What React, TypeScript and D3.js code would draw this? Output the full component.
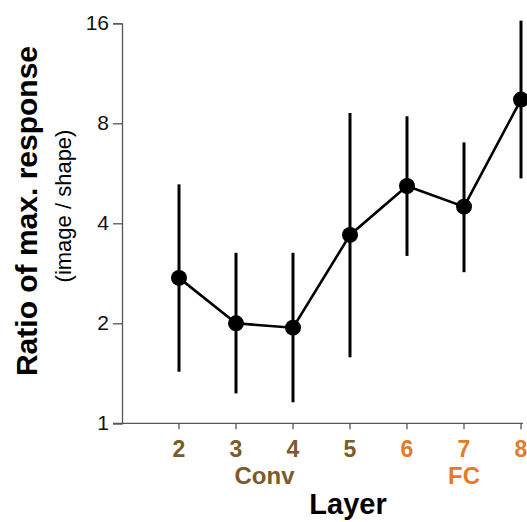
import React, { useEffect, useRef } from 'react';
import * as d3 from 'd3';

// layer numbers and their group
const layers = [2, 3, 4, 5, 6, 7, 8];
const groups = ['Conv', 'Conv', 'Conv', 'Conv', 'FC', 'FC', 'FC'];
// ratio of max. response (image / shape), with error bar ends
const means = [2.74, 2.0, 1.94, 3.69, 5.18, 4.49, 9.43];
const lows = [1.43, 1.23, 1.157, 1.58, 3.19, 2.85, 5.46];
const highs = [5.24, 3.26, 3.26, 8.59, 8.4, 7.01, 16.3];
const yTicks = [1, 2, 4, 8, 16];

const groupColor: Record<string, string> = { Conv: '#7b5a2b', FC: '#e8792a' };
const font = '"Liberation Sans", Arial, sans-serif';

export default function App() {
  const ref = useRef<SVGSVGElement>(null);

  useEffect(() => {
    const svg = d3.select(ref.current);
    svg.selectAll('*').remove();

    const x = d3.scaleLinear().domain([1, 8]).range([122, 521]);
    const y = d3.scaleLog().base(2).domain([1, 16]).range([423.3, 23.3]);

    const data = layers.map((l, i) => ({
      layer: l,
      group: groups[i],
      mean: means[i],
      lo: lows[i],
      hi: highs[i],
    }));

    // y axis
    const yAxis = svg
      .append('g')
      .attr('transform', 'translate(122,0)')
      .call(
        d3
          .axisLeft(y)
          .tickValues(yTicks)
          .tickFormat(d3.format('d'))
          .tickSize(9)
          .tickPadding(4)
      );
    yAxis.select('.domain').attr('stroke', '#555').attr('stroke-width', 1.3);
    yAxis.selectAll('.tick line').attr('stroke', '#555').attr('stroke-width', 1.3);
    yAxis
      .selectAll('.tick text')
      .attr('font-family', font)
      .attr('font-size', 21)
      .attr('fill', '#111')
      .attr('dy', '0.3em');

    // x axis
    svg
      .append('line')
      .attr('x1', 113)
      .attr('x2', 523)
      .attr('y1', y(1))
      .attr('y2', y(1))
      .attr('stroke', '#555')
      .attr('stroke-width', 1.3);

    const xt = svg
      .selectAll('.xtick')
      .data(data)
      .enter()
      .append('g')
      .attr('class', 'xtick')
      .attr('transform', (d) => `translate(${x(d.layer)},${y(1)})`);
    xt.append('line').attr('y2', 6).attr('stroke', '#555').attr('stroke-width', 1.3);
    xt.append('text')
      .attr('y', 33.5)
      .attr('text-anchor', 'middle')
      .attr('font-family', font)
      .attr('font-weight', 'bold')
      .attr('font-size', 23)
      .attr('fill', (d) => groupColor[d.group])
      .text((d) => d.layer);

    // group labels
    svg
      .append('text')
      .attr('x', (x(3) + x(4)) / 2)
      .attr('y', 484)
      .attr('text-anchor', 'middle')
      .attr('font-family', font)
      .attr('font-weight', 'bold')
      .attr('font-size', 24)
      .attr('fill', groupColor.Conv)
      .text('Conv');
    svg
      .append('text')
      .attr('x', x(7))
      .attr('y', 484)
      .attr('text-anchor', 'middle')
      .attr('font-family', font)
      .attr('font-weight', 'bold')
      .attr('font-size', 24)
      .attr('fill', groupColor.FC)
      .text('FC');

    svg
      .append('text')
      .attr('x', 348)
      .attr('y', 514)
      .attr('text-anchor', 'middle')
      .attr('font-family', font)
      .attr('font-weight', 'bold')
      .attr('font-size', 29)
      .attr('fill', '#000')
      .text('Layer');

    // y labels
    svg
      .append('text')
      .attr('transform', 'translate(37,211) rotate(-90)')
      .attr('text-anchor', 'middle')
      .attr('font-family', font)
      .attr('font-weight', 'bold')
      .attr('font-size', 30)
      .attr('fill', '#000')
      .text('Ratio of max. response');
    svg
      .append('text')
      .attr('transform', 'translate(71,206) rotate(-90)')
      .attr('text-anchor', 'middle')
      .attr('font-family', font)
      .attr('font-size', 22)
      .attr('fill', '#000')
      .text('(image / shape)');

    // error bars
    svg
      .selectAll('.err')
      .data(data)
      .enter()
      .append('line')
      .attr('class', 'err')
      .attr('x1', (d) => x(d.layer))
      .attr('x2', (d) => x(d.layer))
      .attr('y1', (d) => y(d.lo))
      .attr('y2', (d) => y(d.hi))
      .attr('stroke', '#000')
      .attr('stroke-width', 3);

    // line
    const line = d3
      .line<any>()
      .x((d) => x(d.layer))
      .y((d) => y(d.mean));
    svg
      .append('path')
      .datum(data)
      .attr('d', line)
      .attr('fill', 'none')
      .attr('stroke', '#000')
      .attr('stroke-width', 2.6);

    // points
    svg
      .selectAll('.pt')
      .data(data)
      .enter()
      .append('circle')
      .attr('class', 'pt')
      .attr('cx', (d) => x(d.layer))
      .attr('cy', (d) => y(d.mean))
      .attr('r', 8)
      .attr('fill', '#000');
  }, []);

  return (
    <svg
      ref={ref}
      width={527}
      height={522}
      style={{ position: 'absolute', left: 0, top: 0, background: '#fff' }}
    />
  );
}
